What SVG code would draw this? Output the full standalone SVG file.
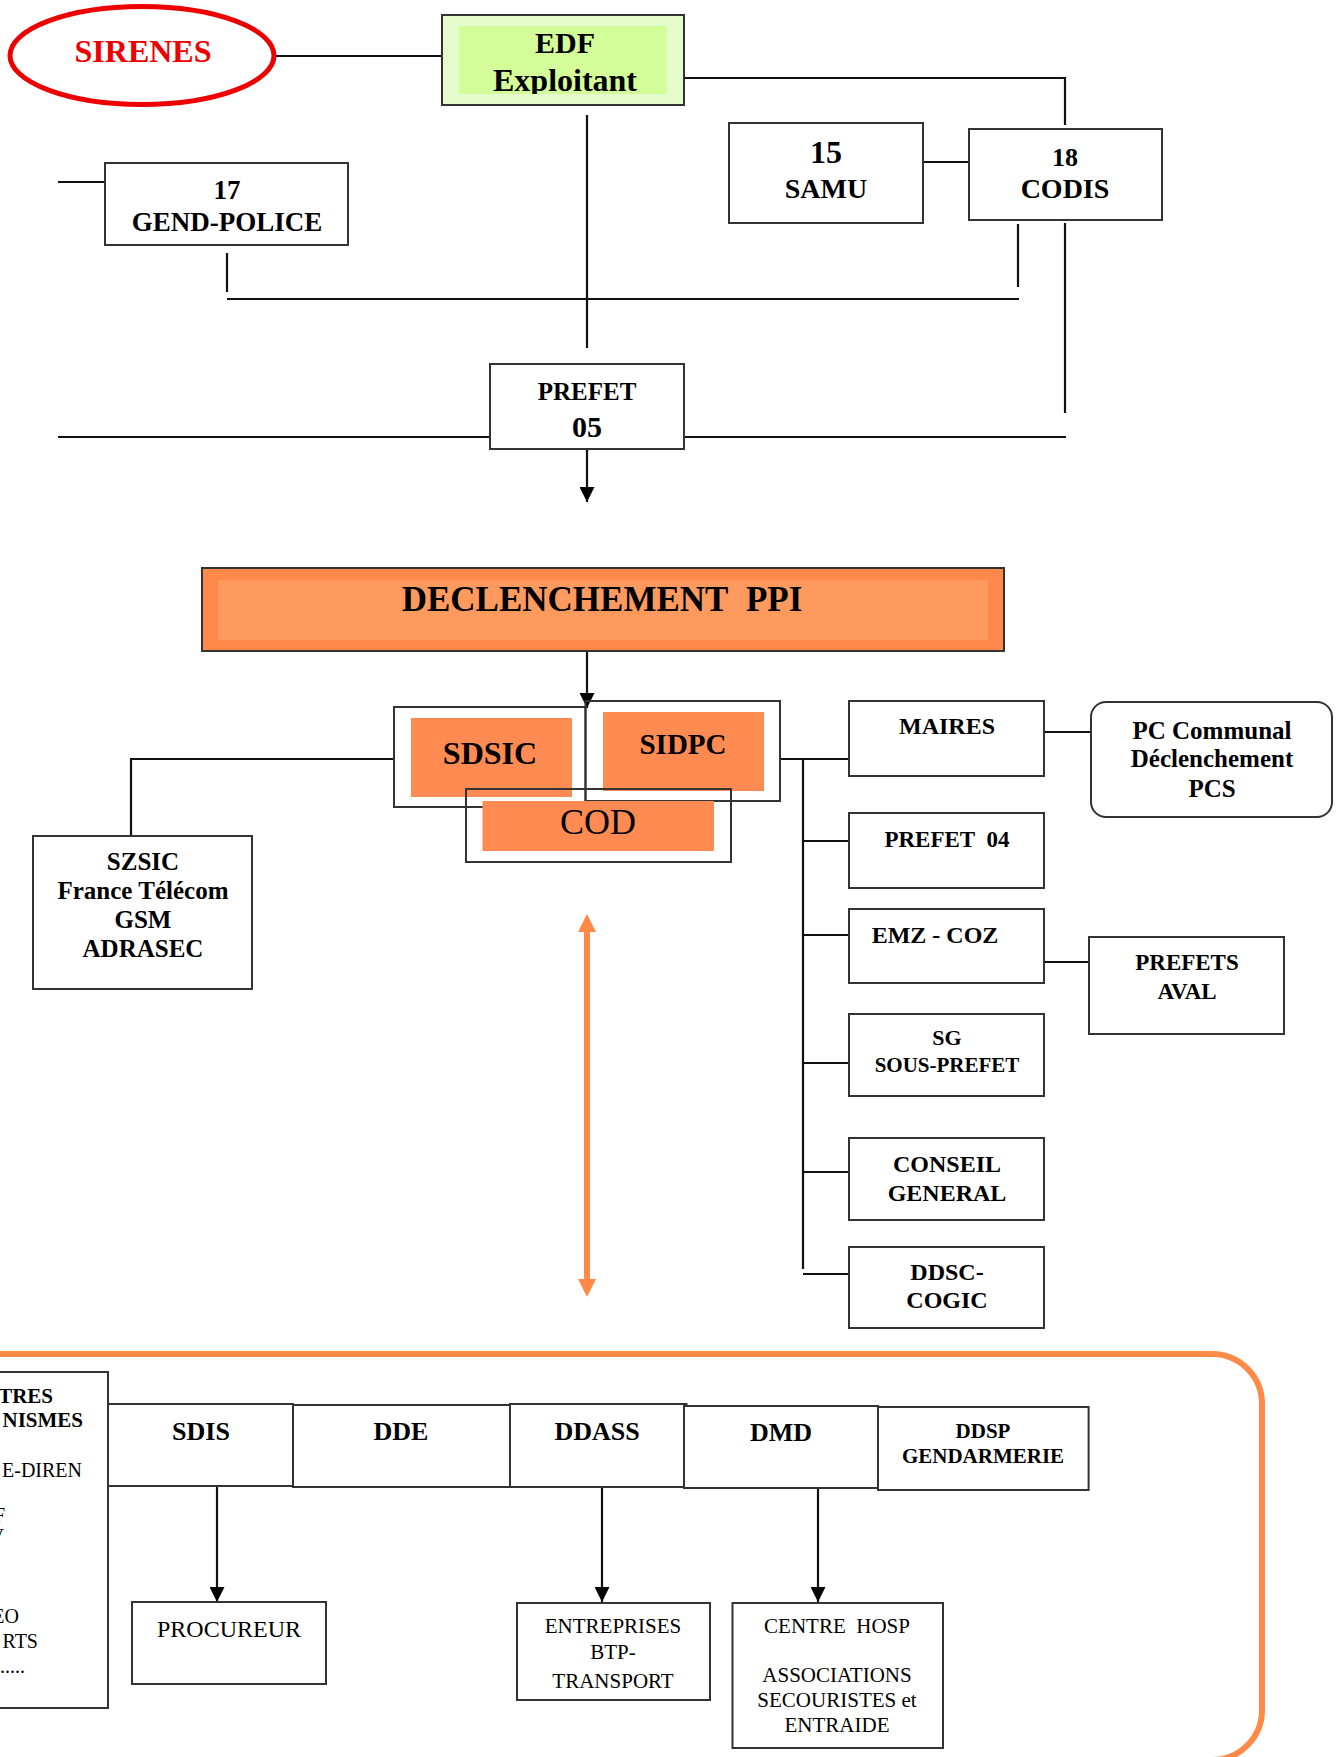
<svg xmlns="http://www.w3.org/2000/svg" width="1339" height="1757" viewBox="0 0 1339 1757">
<style>
  text { font-family: "Liberation Serif", "Times New Roman", serif; fill: #000; text-anchor: middle; }
  .b { font-weight: bold; }
  .box { fill: #fff; stroke: #333; stroke-width: 2; }
  .open { fill: none; stroke: #333; stroke-width: 2; }
  .line { fill: none; stroke: #111; stroke-width: 2.2; }
  .orangefill { fill: #ff8a52; }
  .ohead { fill: #ff8a48; }
</style>
<defs>
  <marker id="arr" viewBox="0 0 10 10" refX="10" refY="5" markerWidth="15" markerHeight="15" markerUnits="userSpaceOnUse" orient="auto">
    <path d="M0,0 L10,5 L0,10 z" fill="#000"/>
  </marker>
  <clipPath id="clipEDF"><rect x="459" y="26" width="208" height="68"/></clipPath>
</defs>
<rect width="1339" height="1757" fill="#fff"/>

<g id="connectors">
  <path class="line" d="M275,56 H443"/>
  <path class="line" d="M684,78 H1065 V125"/>
  <path class="line" d="M58,182 H105"/>
  <path class="line" d="M587,115 V348"/>
  <path class="line" d="M923,162 H970"/>
  <path class="line" d="M227,253 V292"/>
  <path class="line" d="M227,299 H1019"/>
  <path class="line" d="M1018,224 V287"/>
  <path class="line" d="M1065,223 V413"/>
  <path class="line" d="M684,437 H1066"/>
  <path class="line" d="M58,437 H490"/>
  <path class="line" d="M587,449 V502" marker-end="url(#arr)"/>
  <path class="line" d="M587,651 V708" marker-end="url(#arr)"/>
  <path class="line" d="M394,759 H131 V836"/>
  <path class="line" d="M780,759 H851"/>
  <path class="line" d="M803,759 V1269"/>
  <path class="line" d="M803,841 H849"/>
  <path class="line" d="M803,935 H849"/>
  <path class="line" d="M803,1063 H849"/>
  <path class="line" d="M803,1172 H849"/>
  <path class="line" d="M803,1274 H849"/>
  <path class="line" d="M1044,732 H1091"/>
  <path class="line" d="M1044,962 H1089"/>
  <g id="double-arrow">
    <path d="M587,930 V1281" stroke="#ff8a48" stroke-width="6" fill="none"/>
    <polygon class="ohead" points="587,914 578,932 596,932"/>
    <polygon class="ohead" points="587,1297 578,1279 596,1279"/>
  </g>
  <path class="line" d="M217,1486 V1602" marker-end="url(#arr)"/>
  <path class="line" d="M602,1487 V1602" marker-end="url(#arr)"/>
  <path class="line" d="M818,1488 V1602" marker-end="url(#arr)"/>
</g>

<g id="sirenes">
  <ellipse cx="142" cy="55.5" rx="132" ry="49" fill="#fff" stroke="#ee0000" stroke-width="5"/>
  <text x="143" y="62" class="b" font-size="32" style="fill:#ee0000">SIRENES</text>
</g>

<g id="edf">
  <rect x="442" y="15" width="242" height="90" fill="#e4fccb" stroke="#333" stroke-width="2"/>
  <rect x="459" y="26" width="208" height="68" fill="#d3fd99"/>
  <g clip-path="url(#clipEDF)">
    <text x="565" y="53" class="b" font-size="30">EDF</text>
    <text x="565" y="91" class="b" font-size="32">Exploitant</text>
  </g>
</g>

<g id="samu">
  <rect class="box" x="729" y="123" width="194" height="100"/>
  <text x="826" y="163" class="b" font-size="32">15</text>
  <text x="826" y="198" class="b" font-size="28">SAMU</text>
</g>

<g id="codis">
  <rect class="box" x="969" y="129" width="193" height="91"/>
  <text x="1065" y="166" class="b" font-size="26">18</text>
  <text x="1065" y="198" class="b" font-size="28">CODIS</text>
</g>

<g id="gend-police">
  <rect class="box" x="105" y="163" width="243" height="82"/>
  <text x="227" y="199" class="b" font-size="27">17</text>
  <text x="227" y="231" class="b" font-size="27">GEND-POLICE</text>
</g>

<g id="prefet05">
  <rect class="box" x="490" y="364" width="194" height="85"/>
  <text x="587" y="400" class="b" font-size="25">PREFET</text>
  <text x="587" y="437" class="b" font-size="30">05</text>
</g>

<g id="declenchement">
  <rect x="202" y="568" width="802" height="83" fill="#ff884a" stroke="#333" stroke-width="2"/>
  <rect x="218" y="580" width="770" height="60" fill="#ff9a5e"/>
  <text x="602" y="611" class="b" font-size="35">DECLENCHEMENT&#160; PPI</text>
</g>

<g id="sdsic">
  <rect class="box" x="394" y="707" width="191.5" height="100"/>
  <rect class="orangefill" x="411" y="718" width="161" height="79"/>
  <text x="490" y="764" class="b" font-size="32">SDSIC</text>
</g>

<g id="sidpc">
  <rect class="open" x="585.5" y="701" width="194.5" height="100"/>
  <rect class="orangefill" x="603" y="712" width="161" height="79"/>
  <text x="683" y="754" class="b" font-size="29">SIDPC</text>
</g>

<g id="cod">
  <rect class="open" x="466" y="789" width="265" height="73"/>
  <rect class="orangefill" x="482.5" y="801" width="231.5" height="50"/>
  <text x="598" y="834" font-size="36">COD</text>
</g>

<g id="szsic">
  <rect class="box" x="33" y="836" width="219" height="153"/>
  <text x="143" y="870" class="b" font-size="25">SZSIC</text>
  <text x="143" y="899" class="b" font-size="25">France Télécom</text>
  <text x="143" y="928" class="b" font-size="25">GSM</text>
  <text x="143" y="957" class="b" font-size="25">ADRASEC</text>
</g>

<g id="maires">
  <rect class="box" x="849" y="701" width="195" height="75"/>
  <text x="947" y="734" class="b" font-size="24">MAIRES</text>
</g>

<g id="pc-communal">
  <rect class="box" x="1091" y="702" width="241" height="115" rx="15"/>
  <text x="1212" y="739" class="b" font-size="25">PC Communal</text>
  <text x="1212" y="767" class="b" font-size="25">Déclenchement</text>
  <text x="1212" y="797" class="b" font-size="25">PCS</text>
</g>

<g id="prefet04">
  <rect class="box" x="849" y="813" width="195" height="75"/>
  <text x="947" y="847" class="b" font-size="23">PREFET&#160; 04</text>
</g>

<g id="emz-coz">
  <rect class="box" x="849" y="909" width="195" height="74"/>
  <text x="935" y="943" class="b" font-size="24">EMZ - COZ</text>
</g>

<g id="prefets-aval">
  <rect class="box" x="1089" y="937" width="195" height="97"/>
  <text x="1187" y="970" class="b" font-size="23">PREFETS</text>
  <text x="1187" y="999" class="b" font-size="23">AVAL</text>
</g>

<g id="sg">
  <rect class="box" x="849" y="1014" width="195" height="82"/>
  <text x="947" y="1045" class="b" font-size="22">SG</text>
  <text x="947" y="1072" class="b" font-size="21">SOUS-PREFET</text>
</g>

<g id="conseil">
  <rect class="box" x="849" y="1138" width="195" height="82"/>
  <text x="947" y="1172" class="b" font-size="24">CONSEIL</text>
  <text x="947" y="1201" class="b" font-size="24">GENERAL</text>
</g>

<g id="ddsc">
  <rect class="box" x="849" y="1247" width="195" height="81"/>
  <text x="947" y="1280" class="b" font-size="24">DDSC-</text>
  <text x="947" y="1308" class="b" font-size="24">COGIC</text>
</g>

<g id="services-frame">
  <rect x="-60" y="1354" width="1322" height="406" rx="50" ry="50" fill="none" stroke="#ff8a48" stroke-width="6"/>
</g>

<g id="autres-organismes">
  <rect class="box" x="-20" y="1372" width="128" height="336"/>
  <text x="53" y="1403" class="b" font-size="21" style="text-anchor:end">TRES</text>
  <text x="83" y="1427" class="b" font-size="21" style="text-anchor:end">NISMES</text>
  <text x="82" y="1477" font-size="20" style="text-anchor:end">E-DIREN</text>
  <text x="5" y="1522" font-size="20" style="text-anchor:end">F</text>
  <text x="4" y="1543" font-size="20" style="text-anchor:end">V</text>
  <text x="19" y="1623" font-size="20" style="text-anchor:end">EO</text>
  <text x="38" y="1648" font-size="20" style="text-anchor:end">RTS</text>
  <text x="25" y="1673" font-size="20" style="text-anchor:end">.....</text>
</g>

<g id="sdis">
  <rect class="box" x="108" y="1404" width="185" height="82"/>
  <text x="201" y="1440" class="b" font-size="26">SDIS</text>
</g>

<g id="dde">
  <rect class="box" x="293" y="1405" width="217" height="82"/>
  <text x="401" y="1440" class="b" font-size="26">DDE</text>
</g>

<g id="ddass">
  <rect class="box" x="510" y="1404" width="176.5" height="83"/>
  <text x="597" y="1440" class="b" font-size="26">DDASS</text>
</g>

<g id="dmd">
  <rect class="box" x="684" y="1406" width="194" height="82"/>
  <text x="781" y="1441" class="b" font-size="26">DMD</text>
</g>

<g id="ddsp">
  <rect class="box" x="878" y="1407" width="210.6" height="83"/>
  <text x="983" y="1438" class="b" font-size="21">DDSP</text>
  <text x="983" y="1463" class="b" font-size="21">GENDARMERIE</text>
</g>

<g id="procureur">
  <rect class="box" x="132" y="1602" width="194" height="82"/>
  <text x="229" y="1637" font-size="24">PROCUREUR</text>
</g>

<g id="entreprises">
  <rect class="box" x="517" y="1603" width="193" height="97"/>
  <text x="613" y="1633" font-size="21">ENTREPRISES</text>
  <text x="613" y="1659" font-size="21">BTP-</text>
  <text x="613" y="1688" font-size="21">TRANSPORT</text>
</g>

<g id="centre-hosp">
  <rect class="box" x="732.5" y="1603" width="210.5" height="145"/>
  <text x="837" y="1633" font-size="21">CENTRE&#160; HOSP</text>
  <text x="837" y="1682" font-size="21">ASSOCIATIONS</text>
  <text x="837" y="1707" font-size="21">SECOURISTES et</text>
  <text x="837" y="1732" font-size="21">ENTRAIDE</text>
</g>
</svg>
